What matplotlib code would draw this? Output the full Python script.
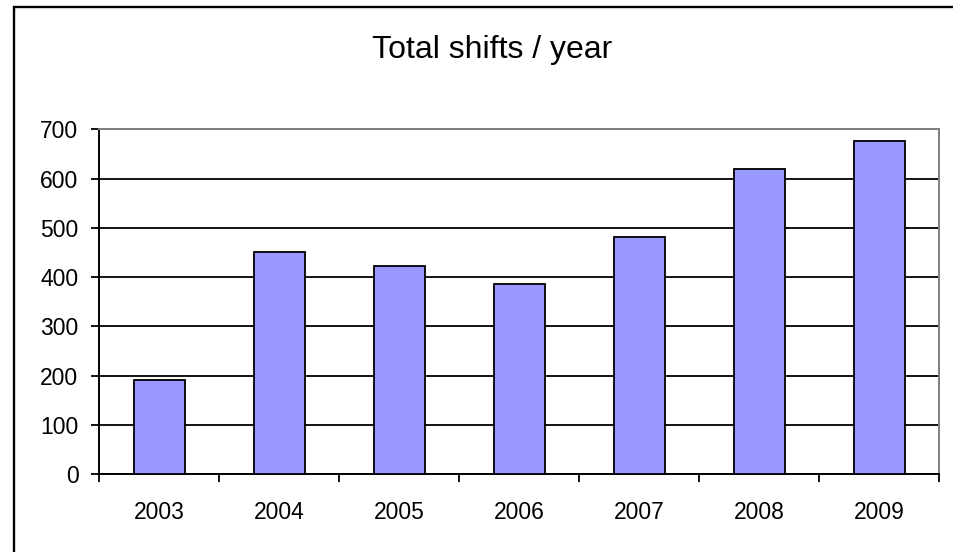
import matplotlib
matplotlib.use("Agg")
import matplotlib.pyplot as plt
from matplotlib.patches import Rectangle

# valores
anos = ["2003", "2004", "2005", "2006", "2007", "2008", "2009"]
turnos = [191, 450, 423, 387, 481, 619, 677]
y_ticks = [0, 100, 200, 300, 400, 500, 600, 700]

plt.rcParams['font.family'] = ['Liberation Sans', 'DejaVu Sans']

fig = plt.figure(figsize=(9.54, 5.52), dpi=100)
ax = fig.add_axes([0.1041, 0.1408, 0.8802, 0.625])

pos = list(range(len(anos)))
ax.bar(pos, turnos, width=0.425, color='#9999FF', edgecolor='black', linewidth=1.3, zorder=3)

ax.set_xlim(-0.5, len(anos) - 0.5)
ax.set_ylim(0, 700)
ax.set_yticks(y_ticks)
ax.yaxis.grid(True, color='black', linewidth=1.3, zorder=0)
ax.set_axisbelow(True)

# rótulos no centro, marcas nas divisões
ax.set_xticks(pos)
ax.set_xticklabels(anos)
ax.set_xticks([p - 0.5 for p in pos] + [len(anos) - 0.5], minor=True)
ax.tick_params(axis='x', which='major', length=0, pad=19, labelsize=16.5)
ax.tick_params(axis='x', which='minor', length=6, width=1.3, color='black')
ax.tick_params(axis='y', length=6, width=1.3, pad=9, labelsize=16.5)

for lado in ['left', 'bottom']:
    ax.spines[lado].set_color('black')
    ax.spines[lado].set_linewidth(1.4)
for lado in ['top', 'right']:
    ax.spines[lado].set_color('#808080')
    ax.spines[lado].set_linewidth(1.4)

fig.text(0.516, 1 - 58 / 552, "Total shifts / year", ha='center', va='baseline', fontsize=23)

# moldura da área do gráfico
moldura = Rectangle((14.5 / 954, -0.1), 1.2, 1 - 7 / 552 + 0.1, transform=fig.transFigure,
                    fill=False, edgecolor='black', linewidth=1.7, clip_on=False)
fig.patches.append(moldura)

fig.savefig("out.png", dpi=100)
